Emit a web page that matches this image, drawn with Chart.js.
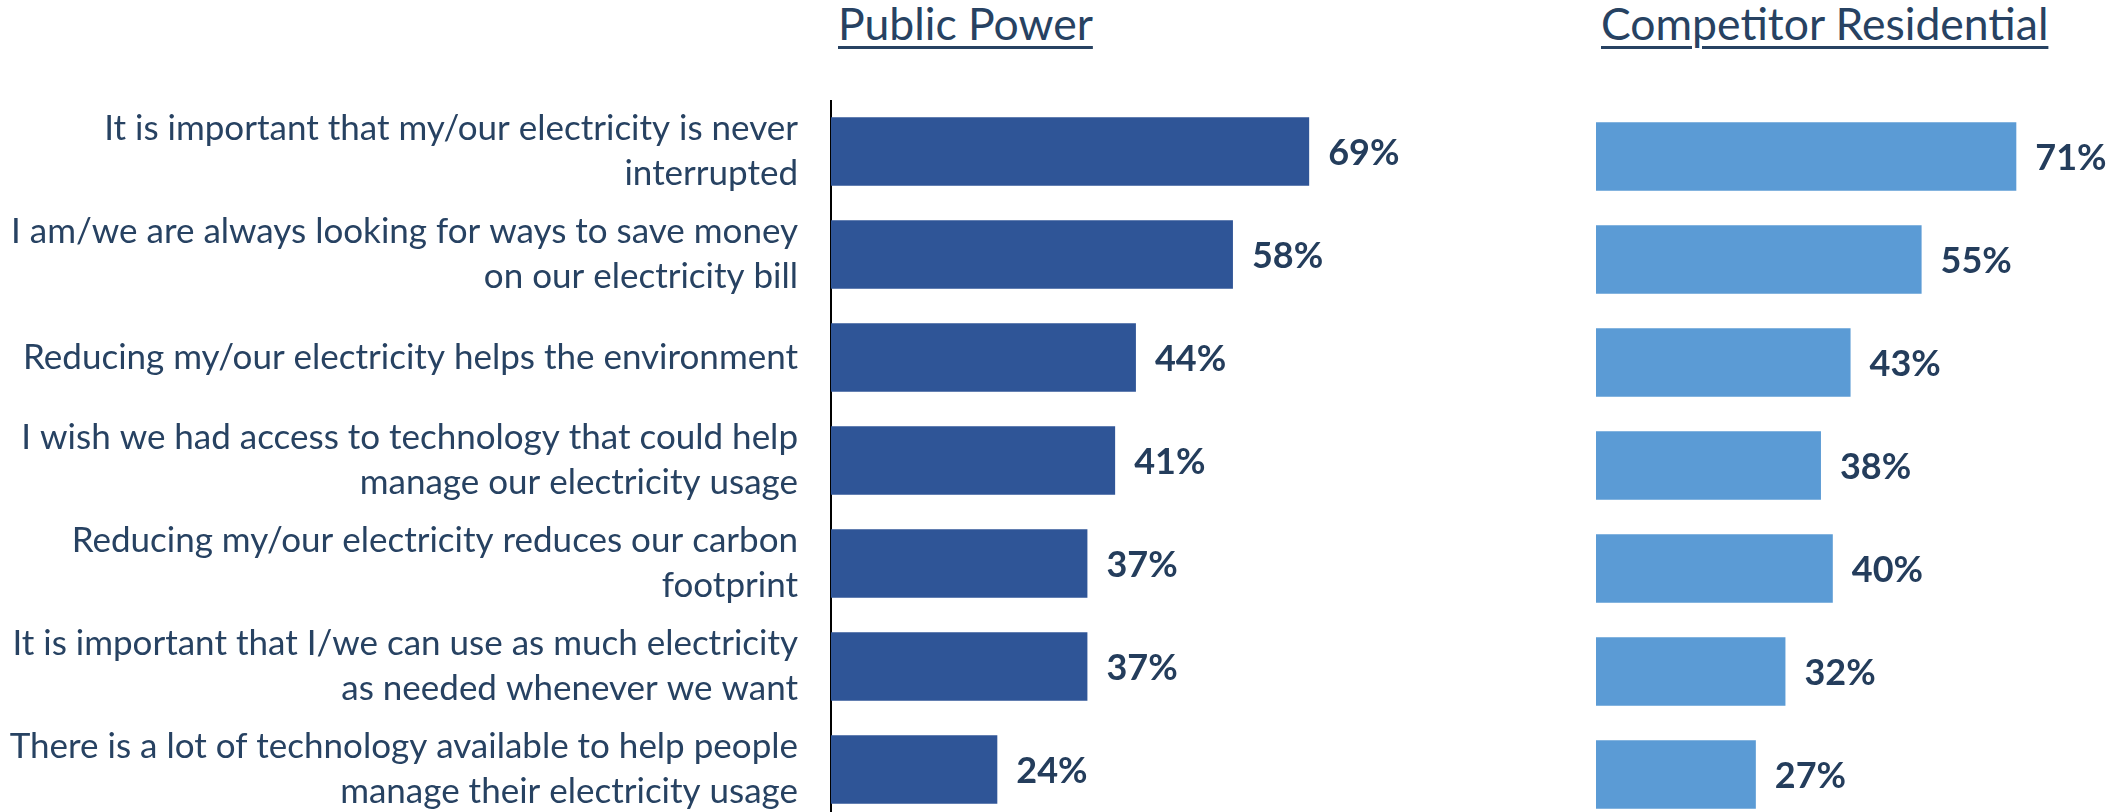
<!DOCTYPE html>
<html>
<head>
<meta charset="utf-8">
<script src="https://cdn.jsdelivr.net/npm/chart.js@4.4.1/dist/chart.umd.min.js"></script>
<style>
  html, body { margin: 0; padding: 0; width: 2126px; height: 812px; overflow: hidden; background: #ffffff; }
  .panel-title {
    position: absolute; top: 1px; margin: 0;
    font-family: Lato, "Open Sans", sans-serif; font-weight: 400;
    font-size: 44.5px; line-height: 44px; color: #274262; white-space: nowrap;
    text-decoration: underline; text-decoration-thickness: 3px; text-underline-offset: 6px;
  }
  #wrapPublic { position: absolute; left: 0; top: 99.5px; width: 1524px; height: 721px; }
  #wrapCompetitor { position: absolute; left: 1596px; top: 104.5px; width: 592px; height: 721px; }
</style>
</head>
<body>
<div class="panel-title" style="left:838px">Public Power</div>
<div class="panel-title" style="left:1601px">Competitor Residential</div>
<div id="wrapPublic"><canvas id="publicChart"></canvas></div>
<div id="wrapCompetitor"><canvas id="competitorChart"></canvas></div>

<script>
// Survey statements (two-line ones are split where they wrap)
const statements = [
  ["It is important that my/our electricity is never", "interrupted"],
  ["I am/we are always looking for ways to save money", "on our electricity bill"],
  "Reducing my/our electricity helps the environment",
  ["I wish we had access to technology that could help", "manage our electricity usage"],
  ["Reducing my/our electricity reduces our carbon", "footprint"],
  ["It is important that I/we can use as much electricity", "as needed whenever we want"],
  ["There is a lot of technology available to help people", "manage their electricity usage"]
];

// Share agreeing with each statement (%)
const publicPower = [69, 58, 44, 41, 37, 37, 24];
const competitorResidential = [71, 55, 43, 38, 40, 32, 27];

const TEXT_COLOR = "#274262";
const VALUE_COLOR = "#243d5c";
const FONT = "Lato";

// Writes "NN%" just past the end of every bar
const valueLabels = {
  id: "valueLabels",
  afterDatasetsDraw(chart) {
    const ctx = chart.ctx;
    const values = chart.data.datasets[0].data;
    ctx.save();
    ctx.font = "bold 36px " + FONT;
    ctx.fillStyle = VALUE_COLOR;
    ctx.textAlign = "left";
    ctx.textBaseline = "middle";
    chart.getDatasetMeta(0).data.forEach((bar, i) => {
      ctx.fillText(values[i] + "%", bar.x + 19, bar.y + 2);
    });
    ctx.restore();
  }
};

function buildChart(canvasId, values, color, showLabels) {
  return new Chart(document.getElementById(canvasId), {
    type: "bar",
    data: {
      labels: statements,
      datasets: [{
        data: values,
        backgroundColor: color,
        borderWidth: 0,
        categoryPercentage: 1.0,
        barPercentage: 0.665
      }]
    },
    options: {
      indexAxis: "y",
      responsive: true,
      maintainAspectRatio: false,
      animation: false,
      layout: { padding: 0 },
      plugins: { legend: { display: false }, tooltip: { enabled: false }, title: { display: false } },
      scales: {
        x: { min: 0, max: 100, display: false },
        y: showLabels ? {
          type: "category",
          position: "left",
          grid: { display: false, drawTicks: false },
          border: { display: true, color: "#000000", width: 2 },
          ticks: {
            autoSkip: false,
            padding: 33,
            color: TEXT_COLOR,
            font: { family: FONT, size: 35, lineHeight: 1.29 }
          },
          afterFit(scale) {
            scale.width = 831;
            scale.paddingTop = 0;
            scale.paddingBottom = 0;
          }
        } : { type: "category", display: false }
      }
    },
    plugins: [valueLabels]
  });
}

function draw() {
  buildChart("publicChart", publicPower, "#2f5597", true);
  buildChart("competitorChart", competitorResidential, "#5b9bd5", false);
}

if (document.fonts && document.fonts.load) {
  Promise.all([
    document.fonts.load("35px " + FONT),
    document.fonts.load("bold 36px " + FONT)
  ]).then(draw, draw);
} else {
  draw();
}
</script>
</body>
</html>
